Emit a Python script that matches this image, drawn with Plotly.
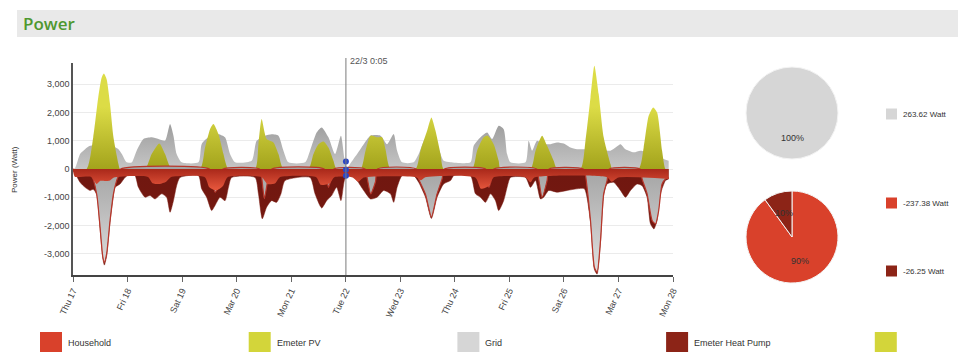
import math
import pandas as pd
import plotly.graph_objects as go

# ---------------------------------------------------------------- data
START = pd.Timestamp("2016-03-17")
CURSOR = pd.Timestamp("2016-03-22 00:05")
END = pd.Timestamp("2016-03-28")

day_ticks = pd.date_range(START, END, freq="D")
day_labels = ["Thu 17", "Fri 18", "Sat 19", "Mar 20", "Mon 21", "Tue 22",
              "Wed 23", "Thu 24", "Fri 25", "Sat 26", "Mar 27", "Mon 28"]

y_ticks = [-3000, -2000, -1000, 0, 1000, 2000, 3000]
y_labels = ["-3,000", "-2,000", "-1,000", "0", "1,000", "2,000", "3,000"]

# grid import (hours since start, Watt)
grid_in_h = [0, 0.9, 3.1, 5.3, 7.5, 11, 14, 17.8, 20.0, 21.5, 23.6, 25.8, 28.0, 31.0, 34.6, 37.6,
             40.5, 42.7, 44.2, 45.6, 47.8, 55.2, 56.6, 59.6, 64.0, 66.9, 69.1, 71.3, 78.6, 80.8,
             84.5, 87.4, 90.4, 92.6, 94.8, 102.1, 104.3, 107.2, 109.4, 112.4, 115.3, 117.9, 119.4,
             120.6, 122.1, 125.0, 127.9, 130.9, 135.3, 138.2, 141.1, 142.6, 144.8, 149.9, 152.1,
             155.1, 157.7, 160.9, 163.1, 166.1, 174.9, 176.3, 179.3, 182.2, 184.4, 187.3, 189.5,
             191.0, 192.5, 199.1, 200.5, 202.0, 204.2, 207.1, 210.1, 213.0, 215.9, 218.9, 221.8,
             230, 236.5, 238.7, 240.9, 243.1, 246.7, 249.7, 255.6, 259.9, 262.1]
grid_in_w = [0, 30, 530, 700, 820, 850, 850, 800, 700, 530, 235, 230, 650, 1060, 1120, 1060,
             1000, 1590, 1180, 530, 235, 235, 880, 1120, 1230, 1120, 530, 235, 290, 1000,
             1180, 1230, 1180, 650, 235, 235, 650, 1290, 1470, 1120, 530, 1180, 400,
             30, 200, 530, 880, 1180, 1180, 880, 1240, 650, 235, 235, 530,
             1100, 1100, 700, 290, 235, 235, 820, 1120, 1290, 1060, 1530, 1410,
             530, 235, 235, 1000, 650, 1000, 880, 880, 940, 900, 760, 700,
             700, 650, 760, 880, 700, 590, 650, 530, 353, 294]

# PV production
pv_h = [0, 6.0, 8.9, 11.1, 12.6, 13.6, 14.8, 16.3, 17.8, 20.0, 20.7,
        31.7, 34.6, 38.0, 40.5, 43.4,
        55.9, 58.1, 60.3, 61.8, 64.0, 66.2, 68.4,
        80.1, 81.6, 83.0, 85.2, 88.2, 90.4, 92.6,
        103.6, 105.8, 108.0, 110.2, 112.4, 114.6, 116.0,
        126.5, 128.7, 130.9, 133.8, 136.0, 137.5, 139.7,
        150.7, 152.9, 155.8, 157.7, 159.5, 161.7, 163.1,
        175.6, 177.8, 180.7, 182.5, 185.1, 187.3, 188.1,
        201.3, 203.5, 206.4, 208.6, 211.5, 213.0,
        223.3, 225.5, 227.7, 229.4, 231.3, 233.5, 236.5, 237.2,
        248.9, 251.1, 253.3, 255.3, 257.0, 259.2, 260.7, 262.1]
pv_w = [0, 0, 1120, 2530, 3230, 3375, 3175, 2290, 1120, 180, 0,
        0, 530, 905, 530, 0,
        0, 760, 1410, 1590, 1235, 530, 0,
        0, 880, 1765, 1060, 940, 530, 0,
        0, 530, 880, 975, 760, 290, 0,
        0, 650, 1180, 1120, 1120, 700, 0,
        0, 650, 1350, 1820, 1350, 530, 0,
        0, 650, 1120, 1180, 880, 290, 0,
        0, 650, 1180, 820, 290, 0,
        0, 1000, 2530, 3650, 2650, 1120, 176, 0,
        0, 760, 1880, 2180, 2000, 650, 0, 0]

# household consumption
household_h = [0, 0.8, 8, 10.4, 12, 16, 18, 33, 35, 38, 41, 43, 58, 60, 63, 66, 68, 83, 85.5,
               89, 91, 107, 109, 113, 115, 123, 125.5, 128, 151, 153, 155, 177, 179.5, 183,
               185, 199, 201.3, 203, 235, 237, 240, 262.1]
household_w = [-60, -270, -280, -530, -420, -420, -300, -280, -500, -530, -450, -290, -290,
               -650, -760, -600, -290, -290, -530, -500, -290, -290, -560, -500, -290, -300,
               -450, -300, -290, -400, -290, -300, -700, -600, -300, -290, -470, -300, -290,
               -450, -300, -350]

# heat pump consumption
heatpump_h = [0, 0.9, 3.1, 5.3, 7.5, 8.9, 10.4, 11.9, 13.1, 13.8, 14.8, 16.3, 17.8, 18.5, 20.7,
              22.9, 25.1, 27.3, 28.8, 31.7, 33.9, 36.1, 39.0, 41.2, 42.7, 44.2, 45.6, 47.1,
              55.2, 56.6, 58.8, 61.0, 62.5, 64.7, 66.9, 68.4, 69.8, 80.1, 81.6, 83.3, 85.2,
              87.4, 89.6, 91.5, 93.3, 104.3, 106.5, 109.4, 111.6, 113.8, 116.0, 117.9, 119.4,
              120.9, 122.1, 125.0, 127.9, 130.9, 133.8, 136.7, 139.7, 141.1, 142.6, 144.8,
              149.9, 152.1, 155.1, 157.7, 160.2, 163.1, 166.1, 167.5, 174.9, 177.1, 179.3,
              181.5, 183.7, 185.9, 187.3, 189.5, 191.0, 192.5, 199.1, 201.3, 203.5, 205.7,
              207.1, 209.3, 213.0, 217.4, 221.8, 225.0, 227.7, 229.4, 230.6, 232.1, 233.5,
              235.0, 237.9, 240.9, 243.1, 245.3, 248.2, 250.4, 252.6, 254.1, 255.6, 257.0,
              258.5, 260.7, 262.1]
heatpump_w = [-60, -150, -470, -650, -760, -720, -900, -2100, -3150, -3400, -3080, -1880, -940,
              -650, -530, -300, -180, -235, -650, -1000, -940, -1060, -880, -1000, -1530,
              -1120, -590, -300, -235, -700, -1000, -1470, -1290, -1000, -1120, -650, -300,
              -300, -880, -1760, -1350, -1120, -1180, -880, -410, -300, -880, -1380, -1120,
              -940, -650, -1120, -410, -180, -176, -410, -760, -1060, -1000, -760, -880,
              -1180, -650, -235, -235, -470, -1000, -1750, -1000, -530, -410, -235, -235,
              -880, -1000, -1180, -880, -1120, -1470, -1120, -650, -300, -300, -650, -410,
              -1060, -1000, -760, -820, -760, -700, -700, -1880, -3550, -3720, -2600, -940,
              -530, -470, -760, -1000, -760, -530, -590, -1000, -1940, -2120, -1820, -880,
              -410, -350]

# grid export
grid_out_h = [0, 8.2, 10.4, 11.9, 13.1, 13.8, 14.8, 16.3, 17.8, 19.2, 20.0, 21,
              60, 61.0, 62.5, 64.0, 65, 66,
              82, 83.0, 84.2, 85.5, 86.5, 87.5,
              110.5, 111.6, 112.4, 113.8, 114.8,
              128.5, 129.4, 131, 133.1, 134,
              151, 152.1, 155.1, 157.7, 160.2, 162.4, 163.5,
              181.5, 182.2, 183, 184.4, 185.2,
              204, 204.9, 206.4, 208.6, 209.5,
              224.5, 225.5, 227.7, 229.4, 230.6, 232.1, 233.5, 235.0, 236,
              249.5, 250.4, 252.6, 254.8, 256.3, 257.7, 259.2, 260.7, 262.1]
grid_out_w = [0, -250, -880, -2050, -3100, -3300, -3000, -1820, -880, -410, -250, 0,
              0, -300, -820, -600, -250, 0,
              0, -300, -1050, -500, -250, 0,
              0, -300, -650, -300, 0,
              0, -300, -880, -450, 0,
              0, -350, -900, -1700, -880, -350, 0,
              0, -300, -650, -300, 0,
              0, -350, -1000, -410, 0,
              0, -235, -1820, -3470, -3650, -2530, -880, -410, 0,
              0, -350, -880, -1820, -1940, -1470, -530, -350, -300]

# instantaneous values at the cursor
now_grid = 263.62
now_household = -237.38
now_heatpump = -26.25

legend_names = ["Household", "Emeter PV", "Grid", "Emeter Heat Pump", ""]

# ---------------------------------------------------------------- styling
W, H = 958, 352
FONT = "Liberation Sans, Arial, sans-serif"
C_RED = "#d9412b"
C_DARK = "#8c2417"
C_YEL = "#d3d53a"
C_GRAY = "#d6d6d6"
legend_colors = [C_RED, C_YEL, C_GRAY, C_DARK, C_YEL]


def fx(px):
    return px / W


def fy(px):
    return 1 - px / H


def times(hours):
    return [START + pd.Timedelta(hours=h) for h in hours]


def area(hours, watts, name, scale, g0, g1, line_color=None, line_width=0):
    return go.Scatter(
        x=times(hours), y=watts, name=name, mode="lines",
        line=dict(shape="spline", smoothing=0.6, width=line_width,
                  color=line_color or scale[-1][1]),
        fill="tozeroy",
        fillgradient=dict(type="vertical", colorscale=scale, start=g0, stop=g1),
        hoverinfo="skip", showlegend=False,
    )


def label(x, y, text, size=9, color="#333", xanchor="center", **kw):
    return dict(x=x, y=y, xref=kw.pop("xref", "paper"), yref="paper", showarrow=False,
                xanchor=xanchor, yanchor="middle", text=text,
                font=dict(size=size, color=color, family=kw.pop("family", FONT),
                          weight=kw.pop("weight", "normal")), **kw)


fig = go.Figure()
fig.add_trace(area(grid_in_h, grid_in_w, "Grid",
                   [[0, "#c6c6c6"], [1, "#9d9d9d"]], 0, 1600))
fig.add_trace(area(pv_h, pv_w, "Emeter PV",
                   [[0, "#a3a31c"], [1, "#dcdc46"]], 0, 2200))
fig.add_trace(area(heatpump_h, heatpump_w, "Emeter Heat Pump",
                   [[0, "#7a1a10"], [1, "#701710"]], -3700, 0,
                   line_color="#7a1a10", line_width=0.5))
fig.add_trace(area(grid_out_h, grid_out_w, "Grid export",
                   [[0, "#dedede"], [1, "#a4a4a4"]], -3600, 0,
                   line_color="#b8362a", line_width=1.2))
fig.add_trace(area(household_h, household_w, "Household",
                   [[0, "#e4553b"], [1, "#a9281a"]], -700, 0))

# cursor points
fig.add_trace(go.Scatter(
    x=[CURSOR] * 3, y=[now_grid, now_heatpump, now_household], mode="markers",
    marker=dict(color="#2a46c8", size=6), hoverinfo="skip", showlegend=False))

# pies
pie_specs = [
    dict(values=[now_grid], colors=[C_GRAY], cx=792, cy=113),
    dict(values=[-now_household, -now_heatpump], colors=[C_RED, C_DARK], cx=792, cy=237),
]
R = 46
annotations = []
shapes = []
for spec in pie_specs:
    fig.add_trace(go.Pie(
        values=spec["values"], labels=[f"s{i}" for i in range(len(spec["values"]))],
        marker=dict(colors=spec["colors"], line=dict(color="#f4f4f4", width=1)),
        domain=dict(x=[fx(spec["cx"] - R), fx(spec["cx"] + R)],
                    y=[fy(spec["cy"] + R), fy(spec["cy"] - R)]),
        sort=False, direction="clockwise", rotation=0, textinfo="none",
        automargin=False, hoverinfo="skip", showlegend=False))
    total = sum(spec["values"])
    acc = 0
    for v in spec["values"]:
        mid = (acc + v / 2) / total * 2 * math.pi
        acc += v
        lx = spec["cx"] + 0.55 * R * math.sin(mid)
        ly = spec["cy"] - 0.55 * R * math.cos(mid)
        annotations.append(label(fx(lx), fy(ly), f"{round(v / total * 100)}%"))

# right-hand legend with current values
side_items = [(now_grid, C_GRAY, 114), (now_household, C_RED, 203), (now_heatpump, C_DARK, 271)]
for val, col, yc in side_items:
    shapes.append(dict(type="rect", xref="paper", yref="paper",
                       x0=fx(886), x1=fx(897), y0=fy(yc + 5.5), y1=fy(yc - 5.5),
                       fillcolor=col, line=dict(width=0)))
    annotations.append(label(fx(901), fy(yc), f"{val:.2f} Watt", size=8, xanchor="left"))

# bottom legend
for i, (name, col) in enumerate(zip(legend_names, legend_colors)):
    x0 = 40 + i * 208.7
    shapes.append(dict(type="rect", xref="paper", yref="paper",
                       x0=fx(x0), x1=fx(x0 + 22), y0=fy(354), y1=fy(332),
                       fillcolor=col, line=dict(width=0)))
    if name:
        annotations.append(label(fx(x0 + 26), fy(343), name, xanchor="left"))

# header bar
shapes.insert(0, dict(type="rect", xref="paper", yref="paper", x0=fx(17), x1=1,
                      y0=fy(37), y1=fy(10), fillcolor="#e9e9e9", line=dict(width=0),
                      layer="below"))
annotations.append(label(fx(21), fy(24), "Power", size=17, color="#4e982f", xanchor="left",
                         family="Open Sans, sans-serif", weight=600))

# cursor line and label
shapes.append(dict(type="line", xref="x", yref="paper", x0=CURSOR, x1=CURSOR,
                   y0=fy(275), y1=fy(58), line=dict(color="#7a7a7a", width=1)))
annotations.append(label(CURSOR, fy(61), CURSOR.strftime("%-d/%-m %-H:%M"), color="#555",
                         xanchor="left", xref="x", xshift=2))

# y-axis title
annotations.append(label(fx(14), fy(170), "Power (Watt)", size=8, textangle=-90))

fig.update_layout(
    width=W, height=H, margin=dict(l=0, r=0, t=0, b=0, autoexpand=False),
    paper_bgcolor="white", plot_bgcolor="white",
    font=dict(family=FONT, size=9, color="#444"),
    hovermode=False, showlegend=False,
    shapes=shapes, annotations=annotations,
    xaxis=dict(domain=[fx(73), fx(673)], range=[START, END], type="date",
               tickvals=list(day_ticks), ticktext=day_labels, tickangle=-65,
               ticks="outside", ticklen=5, tickcolor="#666", automargin=False,
               showline=True, linecolor="#444", linewidth=2, showgrid=False,
               tickfont=dict(size=9, color="#444"), zeroline=False),
    yaxis=dict(domain=[fy(275), fy(63)], range=[-3750, 3750], automargin=False,
               tickvals=y_ticks, ticktext=y_labels,
               showline=True, linecolor="#555", linewidth=1.5,
               showgrid=True, gridcolor="#ebebeb", gridwidth=1, zeroline=False,
               tickfont=dict(size=9, color="#444"), ticks=""),
)

fig.write_html("out.html")
